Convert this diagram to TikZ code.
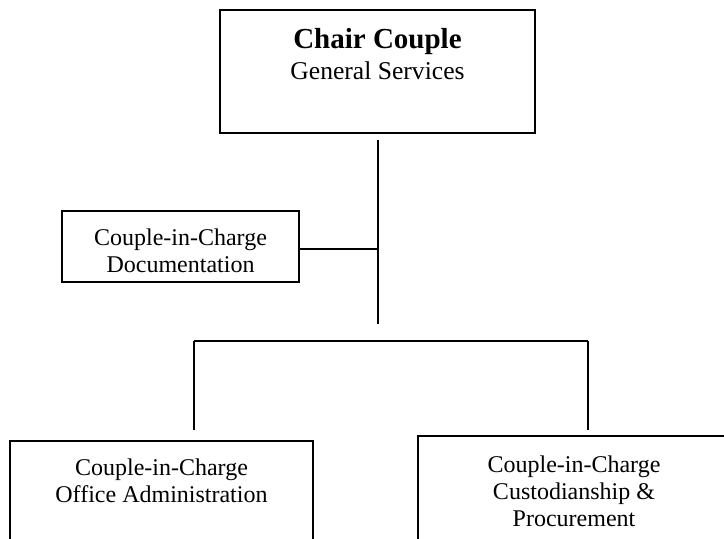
\documentclass[tikz,border=0pt]{standalone}
\usepackage{fontspec}
\setmainfont{Liberation Serif}
\usepackage{tikz}
\usetikzlibrary{positioning}
\usetikzlibrary{calc}

\begin{document}
\begin{tikzpicture}[
        x=0.5pt, y=-0.5pt, % 1 unidad = 1 pixel de la referencia
        font=\fontsize{12}{13.5}\selectfont,
        caja/.style={draw, line width=0.8pt, inner sep=0pt}, % Estilo para las cajas
        texto/.style={inner sep=0pt, align=center, anchor=north}, % Texto dentro de las cajas
        linea/.style={line width=0.8pt} % Estilo para los conectores
    ]
        % --- Marco de la figura ---
        \useasboundingbox (0,0) rectangle (724,538);
        \clip (0,0) rectangle (724,538);

        % --- Cajas ---
        \node[caja, minimum width=157.5pt, minimum height=61.5pt] (chair) at (377.5,71.5) {};
        \node[caja, minimum width=118.5pt, minimum height=35.5pt] (doc) at (180.5,246.5) {};
        \node[caja, minimum width=151.5pt, minimum height=80pt] (office) at (161.5,521) {};
        \node[caja, minimum width=156pt, minimum height=80pt] (custody) at (574,516) {};

        % --- Textos ---
        \node[texto, below=9.5pt of chair.north] (chairtxt)
            {{\fontsize{14.5}{16}\selectfont\bfseries Chair Couple}\\[2pt]{\fontsize{12.8}{14}\selectfont General Services}};
        \node[texto, below=9pt of doc.north] (doctxt) {Couple-in-Charge\\Documentation};
        \node[texto, below=9.3pt of office.north] (officetxt) {Couple-in-Charge\\Office Administration};
        \node[texto, below=10pt of custody.north] (custodytxt) {Couple-in-Charge\\Custodianship \&\\Procurement};

        % --- Puntos de los conectores ---
        \coordinate (spinetop) at (378,140);
        \coordinate (spinebot) at (378,324);
        \coordinate (docend) at ($(doc.east)+(0,2.5)$);
        \coordinate (busL) at (194,341);
        \coordinate (busR) at (588,341);
        \coordinate (dropL) at (194,430);
        \coordinate (dropR) at (588,430);

        % --- Conectores ---
        \draw[linea] (spinetop) -- (spinebot);
        \draw[linea] (docend) -- (docend -| spinetop);
        \draw[linea] (busL) -- (busR);
        \draw[linea] (busL) -- (dropL);
        \draw[linea] (busR) -- (dropR);

    \end{tikzpicture}
\end{document}
